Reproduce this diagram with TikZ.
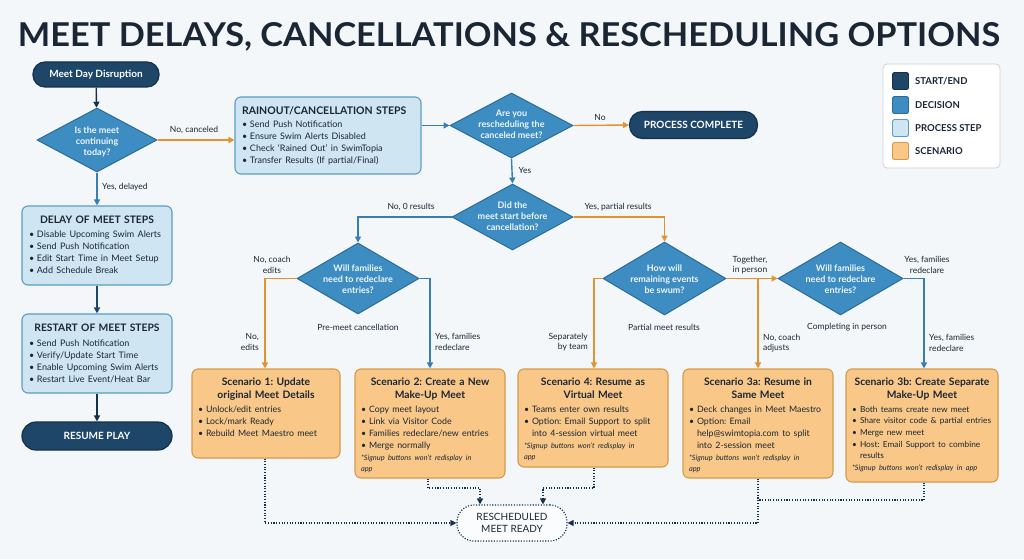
\documentclass[tikz,border=0pt]{standalone}
\usepackage{graphicx}
\usepackage{fontspec}
\setmainfont{Lato}
\usetikzlibrary{shapes.geometric,arrows.meta,calc}
\definecolor{bg}{HTML}{F4F7F9}
\definecolor{navy}{HTML}{1D4669}
\definecolor{navyd}{HTML}{14304A}
\definecolor{decf}{HTML}{3E8DC2}
\definecolor{decb}{HTML}{2A6B99}
\definecolor{procf}{HTML}{CFE6F2}
\definecolor{procb}{HTML}{5B9BC5}
\definecolor{scenf}{HTML}{F9C888}
\definecolor{scenb}{HTML}{D49A4A}
\definecolor{orarr}{HTML}{E0932E}
\definecolor{bluarr}{HTML}{3A7EB1}
\definecolor{txt}{HTML}{1A2633}
\definecolor{dectxt}{HTML}{EEF6FB}
\definecolor{legb}{HTML}{C9D1D8}
\hyphenpenalty=10000
\exhyphenpenalty=10000
\newcommand{\nl}{\hfil\break}
\newcommand{\bl}[1]{\par\hangindent=8pt\hangafter=1\noindent\makebox[8pt][l]{\textbullet}#1}
\newcommand{\btitle}[1]{{\centering\bfseries\fontsize{10.3}{13}\selectfont #1\par}\vspace{1.5pt}\fontsize{8.8}{12}\selectfont}
\newcommand{\bnote}[1]{\par\vspace{1pt}{\noindent\itshape\fontsize{7.4}{11}\selectfont #1\par}}
\tikzset{
  pill/.style={rectangle, rounded corners=12pt, draw=navyd, fill=navy, line width=1.2pt, text=white, font=\bfseries\fontsize{10}{12}\selectfont, inner sep=0},
  dec/.style={diamond, draw=decb, fill=decf, line width=1pt, inner sep=0},
  dectext/.style={text=dectxt, font=\bfseries\fontsize{9}{11}\selectfont, align=center, inner sep=0},
  proc/.style={rectangle, rounded corners=6pt, draw=procb, fill=procf, line width=1.1pt, inner sep=0},
  scen/.style={rectangle, rounded corners=6pt, draw=scenb, fill=scenf, line width=1.1pt, inner sep=0},
  boxtext/.style={anchor=north, inner sep=0, text=txt, align=left, font=\frenchspacing},
  lbl/.style={text=txt, font=\fontsize{8.5}{10.5}\selectfont, inner sep=0},
  tip/.style={-{Triangle[length=6pt,width=6pt]}},
  oarr/.style={draw=orarr, line width=1.4pt, tip},
  barr/.style={draw=bluarr, line width=1.4pt, tip},
  narr/.style={draw=navyd, line width=1.4pt, tip},
  dotl/.style={draw=navyd, line width=1.2pt, dash pattern=on 1.1pt off 1.6pt},
  dotarr/.style={dotl, tip},
  legsq/.style={rectangle, rounded corners=2pt, minimum width=16pt, minimum height=17pt, line width=0.9pt, inner sep=0},
  legtxt/.style={anchor=west, text=txt, font=\bfseries\fontsize{9.5}{11}\selectfont, inner sep=0}
}
\begin{document}
\frenchspacing
\begin{tikzpicture}[x=1pt,y=-1pt]
\useasboundingbox[fill=bg] (0,0) rectangle (1024,559);
% title
\node[anchor=base, text=txt, inner sep=0] (title) at (509,47) {\resizebox{982pt}{24pt}{\bfseries MEET DELAYS, CANCELLATIONS \& RESCHEDULING OPTIONS}};

% legend
\node[rectangle, rounded corners=4pt, draw=legb, fill=white, line width=0.8pt, minimum width=117pt, minimum height=104pt] (leg) at (941.5,116) {};
\node[legsq, draw=navyd, fill=navy] (lg1) at (900.5,81) {};
\node[legsq, draw=decb, fill=decf] (lg2) at (900.5,105) {};
\node[legsq, draw=procb, fill=procf] (lg3) at (900.5,128) {};
\node[legsq, draw=scenb, fill=scenf] (lg4) at (900.5,151) {};
\node[legtxt] (lt1) at (915,81) {START/END};
\node[legtxt] (lt2) at (915,105) {DECISION};
\node[legtxt] (lt3) at (915,128) {PROCESS STEP};
\node[legtxt] (lt4) at (915,151) {SCENARIO};

% left column
\node[pill, minimum width=126pt, minimum height=25pt] (start) at (96,74.5) {Meet Day Disruption};
\node[dec, minimum width=120pt, minimum height=64pt] (d1) at (97,140) {};
\node[dectext] (d1t) at (97,142) {Is the meet\\continuing\\today?};
\node[proc, minimum width=150pt, minimum height=79pt] (delay) at (97,245.5) {};
\node[boxtext, text width=136pt] (delayt) at ([yshift=-10.5pt]delay.north) {\btitle{DELAY OF MEET STEPS}\fontsize{9}{12}\selectfont\bl{Disable Upcoming Swim Alerts}\bl{Send Push Notification}\bl{Edit Start Time in Meet Setup}\bl{Add Schedule Break}};
\node[proc, minimum width=150pt, minimum height=79pt] (restart) at (97,353.5) {};
\node[boxtext, text width=136pt] (restartt) at ([yshift=-10pt]restart.north) {\btitle{RESTART OF MEET STEPS}\fontsize{9}{12}\selectfont\vspace{1.5pt}\bl{Send Push Notification}\bl{Verify/Update Start Time}\bl{Enable Upcoming Swim Alerts}\bl{Restart Live Event/Heat Bar}};
\node[pill, minimum width=150pt, minimum height=28pt, rounded corners=14pt] (resume) at (97,436) {RESUME PLAY};

% rainout
\node[proc, minimum width=186pt, minimum height=77pt] (rain) at (328,135.5) {};
\node[boxtext, text width=172pt] (raint) at ([yshift=-10pt]rain.north) {{\bfseries\fontsize{10.5}{13}\selectfont RAINOUT/CANCELLATION STEPS\par}\vspace{0.5pt}\fontsize{9}{12.2}\selectfont\bl{Send Push Notification}\bl{Ensure Swim Alerts Disabled}\bl{Check ‘Rained Out’ in SwimTopia}\bl{Transfer Results (If partial/Final)}};

% decisions
\node[dec, minimum width=123pt, minimum height=65pt] (d2) at (511.5,125.5) {};
\node[dectext] (d2t) at (511.5,124.5) {Are you\\rescheduling the\\canceled meet?};
\node[pill, minimum width=128pt, minimum height=27pt, rounded corners=13pt] (done) at (693.5,125) {PROCESS COMPLETE};
\node[dec, minimum width=121pt, minimum height=66pt] (d3) at (512.5,217) {};
\node[dectext] (d3t) at (512.5,216.5) {Did the\\meet start before\\cancellation?};
\node[dec, minimum width=122pt, minimum height=71pt] (d4) at (358,278.5) {};
\node[dectext] (d4t) at (358,279) {Will families\\need to redeclare\\entries?};
\node[dec, minimum width=123pt, minimum height=73pt] (d5) at (664.5,278.5) {};
\node[dectext] (d5t) at (664.5,279) {How will\\remaining events\\be swum?};
\node[dec, minimum width=125pt, minimum height=73pt] (d6) at (840.5,278.5) {};
\node[dectext] (d6t) at (840.5,279) {Will families\\need to redeclare\\entries?};

% scenarios
\node[scen, minimum width=148pt, minimum height=89pt] (s1) at (266,413.5) {};
\node[boxtext, text width=136pt] (s1t) at ([yshift=-9.5pt]s1.north) {\btitle{Scenario 1: Update\\original Meet Details}\bl{Unlock/edit entries}\bl{Lock/mark Ready}\bl{Rebuild Meet Maestro meet}};
\node[scen, minimum width=150pt, minimum height=109pt] (s2) at (430,423.5) {};
\node[boxtext, text width=138pt] (s2t) at ([yshift=-9.5pt]s2.north) {\btitle{Scenario 2: Create a New\\Make-Up Meet}\bl{Copy meet layout}\bl{Link via Visitor Code}\bl{Families redeclare/new entries}\bl{Merge normally}\bnote{*Signup buttons won't redisplay in\nl app}};
\node[scen, minimum width=150pt, minimum height=98pt] (s4) at (593,418) {};
\node[boxtext, text width=138pt] (s4t) at ([yshift=-9.5pt]s4.north) {\btitle{Scenario 4: Resume as\\Virtual Meet}\bl{Teams enter own results}\bl{Option: Email Support to split\nl into 4-session virtual meet}\bnote{*Signup buttons won't redisplay in\nl app}};
\node[scen, minimum width=150pt, minimum height=109pt] (s3a) at (758,423.5) {};
\node[boxtext, text width=138pt] (s3at) at ([yshift=-9.5pt]s3a.north) {\btitle{Scenario 3a: Resume in\\Same Meet}\bl{Deck changes in Meet Maestro}\bl{Option: Email\nl help@swimtopia.com to split\nl into 2-session meet}\bnote{*Signup buttons won't redisplay in\nl app}};
\node[scen, minimum width=152pt, minimum height=113pt] (s3b) at (922,425.5) {};
\node[boxtext, text width=140pt] (s3bt) at ([yshift=-9.5pt]s3b.north) {\btitle{Scenario 3b: Create Separate\\Make-Up Meet}\fontsize{8.3}{11.7}\selectfont\bl{Both teams create new meet}\bl{Share visitor code \& partial entries}\bl{Merge new meet}\bl{Host: Email Support to combine\nl results}\bnote{*Signup buttons won't redisplay in app}};

% end node
\node[rectangle, rounded corners=17pt, draw=navyd, line width=1.2pt, dash pattern=on 1.1pt off 1.6pt, fill=white!60!bg, minimum width=110pt, minimum height=36pt, align=center, text=txt, font=\fontsize{10}{12}\selectfont, inner sep=0] (ready) at (512,523) {RESCHEDULED\\MEET READY};

% coordinates
\coordinate (k1) at (265,278.5);
\coordinate (k2) at (430,278.5);
\coordinate (k4) at (594,278.5);
\coordinate (k3a) at (758,278.5);
\coordinate (k3b) at (924,278.5);
\coordinate (e1) at (265,523);
\coordinate (e2a) at (428,488);
\coordinate (e2b) at (480,488);
\coordinate (e4a) at (594,488);
\coordinate (e4b) at (543,488);
\coordinate (e3a) at (758,523);
\coordinate (e3b) at (924,500);
\coordinate (e3c) at (758,500);

% connectors
\draw[narr] (start) -- (d1);
\draw[oarr] (d1.east) -- (d1.east -| rain.west);
\draw[barr] (d1.south) -- (delay.north);
\draw[narr, draw=navy] (delay.south) -- (restart.north);
\draw[narr] (restart.south) -- (resume.north);
\draw[barr] (rain.east |- d2.west) -- (d2.west);
\draw[oarr] (d2.east) -- (done.west);
\draw[barr] (d2.south) -- (d3.north);
\draw[barr] (d3.west) -| (d4.north);
\draw[oarr] (d3.east) -| (d5.north);
\draw[oarr] (d4.west) -- (k1) -- (k1 |- s1.north);
\draw[barr] (d4.east) -- (k2) -- (k2 |- s2.north);
\draw[oarr] (d5.west) -- (k4) -- (k4 |- s4.north);
\draw[oarr] (d5.east) -- (d6.west);
\draw[oarr] (k3a) -- (k3a |- s3a.north);
\draw[barr] (d6.east) -- (k3b) -- (k3b |- s3b.north);

% dotted
\draw[dotarr] (k1 |- s1.south) -- (e1) -- (ready.west);
\draw[dotarr] (e2a |- s2.south) -- (e2a) -- (e2b) -- (e2b |- ready.north);
\draw[dotarr] (k4 |- s4.south) -- (e4a) -- (e4b) -- (e4b |- ready.north);
\draw[dotarr] (k3a |- s3a.south) -- (e3a) -- (ready.east);
\draw[dotl] (k3b |- s3b.south) -- (e3b) -- (e3c);

% labels
\node[lbl] (l1) at (194,130) {No, canceled};
\node[lbl, anchor=west] (l2) at (102,187) {Yes, delayed};
\node[lbl] (l3) at (600,117) {No};
\node[lbl] (l4) at (525,170) {Yes};
\node[lbl] (l5) at (411,207) {No, 0 results};
\node[lbl] (l6) at (618,207) {Yes, partial results};
\node[lbl, align=center] (l7) at (272,265) {No, coach\\edits};
\node[lbl, align=right, anchor=east] (l8) at (259,342) {No,\\edits};
\node[lbl] (l9) at (358,327) {Pre-meet cancellation};
\node[lbl, align=left, anchor=west] (l10) at (435,342) {Yes, families\\redeclare};
\node[lbl, align=right, anchor=east] (l11) at (588,342) {Separately\\by team};
\node[lbl] (l12) at (664,327) {Partial meet results};
\node[lbl, align=left] (l13) at (750,265) {Together,\\in person};
\node[lbl, align=left, anchor=west] (l14) at (763,343) {No, coach\\adjusts};
\node[lbl] (l15) at (847,327) {Completing in person};
\node[lbl, align=center] (l16) at (927,265) {Yes, families\\redeclare};
\node[lbl, align=left, anchor=west] (l17) at (929,343) {Yes, families\\redeclare};
\end{tikzpicture}
\end{document}
